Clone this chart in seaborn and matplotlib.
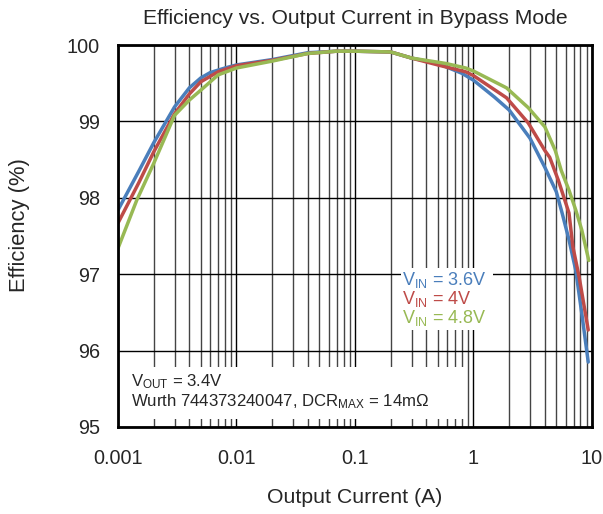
import numpy as np
import pandas as pd
import matplotlib
matplotlib.use("Agg")
import matplotlib.pyplot as plt
import seaborn as sns
from matplotlib.ticker import LogLocator, FixedLocator, NullFormatter

# ---- data ----
cur_blue = [0.001, 0.0015, 0.002, 0.003, 0.004, 0.005, 0.006, 0.008, 0.01, 0.02, 0.04, 0.07, 0.1, 0.2, 0.3,
            0.5, 0.8, 1.0, 1.5, 2.0, 3.0, 4.0, 5.0, 5.6, 6.4, 7.3, 8.2, 9.3]
eff_blue = [97.84, 98.35, 98.72, 99.19, 99.44, 99.57, 99.64, 99.70, 99.74, 99.81, 99.90, 99.92, 99.92, 99.91, 99.83,
            99.76, 99.63, 99.54, 99.32, 99.15, 98.78, 98.40, 98.08, 97.80, 97.45, 97.05, 96.49, 95.85]

cur_red = [0.001, 0.0015, 0.002, 0.003, 0.004, 0.005, 0.007, 0.01, 0.02, 0.04, 0.07, 0.1, 0.2, 0.3,
           0.5, 0.86, 1.0, 1.9, 2.9, 4.0, 4.4, 5.2, 5.9, 6.4, 6.9, 7.8, 9.3]
eff_red = [97.67, 98.2, 98.6, 99.1, 99.36, 99.52, 99.65, 99.73, 99.80, 99.89, 99.92, 99.92, 99.91, 99.83,
           99.74, 99.65, 99.60, 99.31, 98.98, 98.62, 98.53, 98.23, 97.97, 97.80, 97.36, 96.96, 96.27]

cur_green = [0.001, 0.00144, 0.002, 0.003, 0.004, 0.005, 0.007, 0.01, 0.02, 0.04, 0.07, 0.1, 0.2, 0.3,
             0.58, 0.86, 1.0, 1.9, 2.9, 4.0, 4.9, 5.5, 6.4, 7.3, 8.2, 9.4]
eff_green = [97.34, 97.97, 98.45, 99.08, 99.28, 99.41, 99.61, 99.70, 99.79, 99.89, 99.92, 99.92, 99.91, 99.83,
             99.76, 99.70, 99.66, 99.44, 99.18, 98.93, 98.62, 98.36, 98.10, 97.84, 97.58, 97.18]

series_names = ["VIN = 3.6V", "VIN = 4V", "VIN = 4.8V"]
series_labels = [r"V$_{\mathregular{IN}}$ = 3.6V", r"V$_{\mathregular{IN}}$ = 4V", r"V$_{\mathregular{IN}}$ = 4.8V"]
colors = ["#4A7EBB", "#BE4B48", "#98B954"]

xticks = [0.001, 0.01, 0.1, 1, 10]
xticklabels = ["0.001", "0.01", "0.1", "1", "10"]
yticks = [95, 96, 97, 98, 99, 100]

df = pd.concat([
    pd.DataFrame({"I": cur_blue, "E": eff_blue, "s": series_names[0]}),
    pd.DataFrame({"I": cur_red, "E": eff_red, "s": series_names[1]}),
    pd.DataFrame({"I": cur_green, "E": eff_green, "s": series_names[2]}),
])

sns.set_style("white")
plt.rcParams["font.family"] = ["Liberation Sans", "DejaVu Sans"]
plt.rcParams["mathtext.fontset"] = "custom"
plt.rcParams["mathtext.rm"] = "Liberation Sans"
plt.rcParams["mathtext.it"] = "Liberation Sans"

fig = plt.figure(figsize=(6.03, 5.14), dpi=100)
ax = fig.add_axes([0.1957, 0.1693, 0.786, 0.743])

sns.lineplot(data=df, x="I", y="E", hue="s", palette=dict(zip(series_names, colors)),
             linewidth=2.5, ax=ax, legend=False, sort=False, estimator=None)

ax.set_xscale("log")
ax.set_xlim(0.001, 10)
ax.set_ylim(95, 100)
ax.xaxis.set_major_locator(FixedLocator(xticks))
ax.set_xticklabels(xticklabels)
ax.xaxis.set_minor_locator(LogLocator(base=10, subs=np.arange(2, 10)))
ax.xaxis.set_minor_formatter(NullFormatter())
ax.set_yticks(yticks)
ax.set_yticklabels([str(v) for v in yticks])

ax.grid(which="major", axis="both", color="black", linewidth=1.0)
ax.grid(which="minor", axis="x", color="#444444", linewidth=1.0)
ax.set_axisbelow(True)
for sp in ax.spines.values():
    sp.set_visible(True)
    sp.set_color("black")
    sp.set_linewidth(2)
ax.tick_params(axis="both", which="both", length=0, labelsize=14.3)
ax.tick_params(axis="x", pad=15.5)
ax.tick_params(axis="y", pad=13)

ax.set_title("Efficiency vs. Output Current in Bypass Mode", fontsize=15.2, pad=15)
ax.set_xlabel("Output Current (A)", fontsize=15.3, labelpad=15)
ax.set_ylabel("Efficiency (%)", fontsize=15.8)
ax.yaxis.set_label_coords(-0.185, 0.53)

# legend-like colored text
ty = [0.385, 0.335, 0.285]
for lab, c, y in zip(series_labels, colors, ty):
    ax.text(0.60, y, lab, transform=ax.transAxes, color=c, fontsize=13,
            va="center", ha="left", zorder=5)
ax.add_patch(plt.Rectangle((0.597, 0.254), 0.195, 0.162, transform=ax.transAxes,
                           facecolor="white", edgecolor="none", zorder=4))

ax.add_patch(plt.Rectangle((0.004, 0.021), 0.729, 0.136, transform=ax.transAxes,
                           facecolor="white", edgecolor="none", zorder=4))
ax.text(0.027, 0.118, r"V$_{\mathregular{OUT}}$ = 3.4V", transform=ax.transAxes,
        fontsize=12.1, va="center", ha="left", zorder=5)
ax.text(0.027, 0.066, r"Wurth 744373240047, DCR$_{\mathregular{MAX}}$ = 14m$\Omega$",
        transform=ax.transAxes, fontsize=12.1, va="center", ha="left", zorder=5)

fig.savefig("out.png", dpi=100)
